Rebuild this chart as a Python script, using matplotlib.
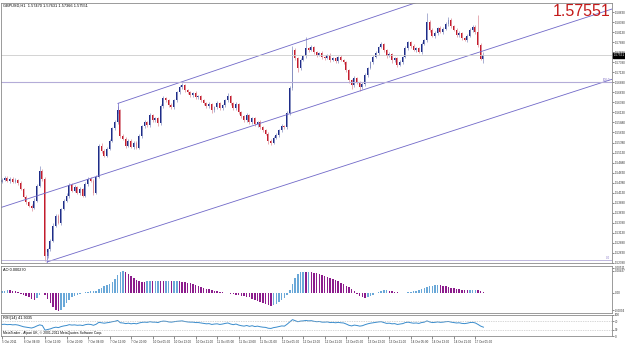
import numpy as np
import matplotlib.pyplot as plt

# GBPUSD H1 candles, 5 Oct - 17 Oct 2011 (closes)
close = [1.54455, 1.54505, 1.5443, 1.5448, 1.54405, 1.54455, 1.5438, 1.5423, 1.5403, 1.53905,
         1.53805, 1.53755, 1.5393, 1.54305, 1.5468, 1.5448, 1.52555, 1.5273, 1.5293, 1.53305,
         1.53555, 1.5338, 1.5373, 1.5393, 1.54055, 1.5433, 1.5418, 1.5428, 1.5413, 1.5423,
         1.54055, 1.54355, 1.5448, 1.5443, 1.5413, 1.5453, 1.55305, 1.5518, 1.55055, 1.5523,
         1.5543, 1.5573, 1.5588, 1.5618, 1.55555, 1.5548, 1.55305, 1.5543, 1.5528, 1.5538,
         1.55255, 1.55555, 1.5578, 1.5588, 1.55805, 1.56055, 1.5593, 1.5598, 1.55855, 1.5628,
         1.5648, 1.5643, 1.56305, 1.56255, 1.5643, 1.5663, 1.56755, 1.56805, 1.5668, 1.5663,
         1.56555, 1.56605, 1.56505, 1.5653, 1.5643, 1.56355, 1.5628, 1.5633, 1.5618, 1.56255,
         1.56355, 1.5623, 1.56305, 1.5643, 1.5653, 1.56355, 1.5623, 1.5633, 1.5613, 1.5603,
         1.5593, 1.56055, 1.5588, 1.5598, 1.5583, 1.5588, 1.55755, 1.5568, 1.55605, 1.5543,
         1.5538, 1.55505, 1.5558, 1.5568, 1.5578, 1.55755, 1.56105, 1.5673, 1.5768, 1.5748,
         1.5723, 1.5743, 1.5753, 1.5773, 1.5768, 1.57755, 1.5763, 1.57555, 1.57605, 1.57505,
         1.5748, 1.57555, 1.5743, 1.5748, 1.57405, 1.57505, 1.5743, 1.5738, 1.5718, 1.5693,
         1.56805, 1.5698, 1.5688, 1.56755, 1.5683, 1.57055, 1.5723, 1.5738, 1.57505, 1.57605,
         1.57755, 1.5783, 1.5768, 1.5753, 1.5758, 1.5743, 1.5748, 1.57305, 1.5738, 1.57505,
         1.5773, 1.5788, 1.5778, 1.5768, 1.5773, 1.5763, 1.5783, 1.5793, 1.5838, 1.5818,
         1.5803, 1.58105, 1.5823, 1.5813, 1.58205, 1.5833, 1.5843, 1.5828, 1.5818, 1.5805,
         1.58105, 1.5798, 1.5793, 1.5803, 1.5818, 1.58255, 1.5813, 1.5780, 1.5747, 1.57551]
first_open = 1.54405

# wick lengths in pips above / below the body
wick_up = [4, 3, 5, 3, 4, 3, 2, 4, 3, 5, 3, 4, 6, 5, 12, 4, 5, 3, 4, 6,
           4, 5, 3, 4, 6, 3, 4, 5, 3, 4, 3, 5, 4, 3, 4, 3, 5, 6, 3, 4,
           5, 4, 6, 10, 3, 4, 3, 5, 4, 3, 4, 5, 3, 6, 4, 5, 3, 4, 3, 5,
           6, 4, 3, 5, 4, 3, 6, 5, 4, 3, 4, 3, 5, 3, 4, 3, 4, 5, 3, 4,
           5, 3, 4, 3, 8, 4, 3, 5, 3, 4, 3, 5, 4, 3, 4, 3, 5, 3, 4, 3,
           4, 5, 3, 4, 5, 3, 6, 5, 10, 6, 4, 5, 3, 28, 4, 5, 3, 4, 3, 5,
           3, 4, 5, 3, 4, 3, 5, 3, 4, 3, 4, 5, 3, 4, 6, 5, 4, 3, 5, 6,
           4, 5, 3, 4, 5, 3, 4, 3, 5, 4, 6, 4, 3, 5, 4, 3, 5, 4, 22, 6,
           4, 5, 3, 4, 5, 6, 7, 4, 3, 4, 5, 3, 4, 5, 4, 6, 4, 42, 5, 8]
wick_dn = [3, 4, 3, 5, 3, 4, 5, 3, 4, 5, 4, 8, 3, 4, 3, 5, 12, 4, 5, 3,
           4, 3, 5, 3, 4, 5, 3, 4, 3, 5, 4, 3, 5, 4, 6, 3, 4, 5, 4, 3,
           3, 4, 3, 4, 5, 3, 6, 4, 3, 5, 4, 3, 5, 3, 4, 3, 5, 4, 6, 3,
           3, 4, 5, 3, 4, 3, 3, 4, 5, 3, 4, 3, 5, 3, 4, 5, 3, 4, 6, 3,
           4, 3, 5, 4, 3, 5, 4, 3, 5, 4, 5, 3, 4, 5, 3, 6, 4, 5, 3, 8,
           6, 4, 3, 5, 3, 4, 3, 4, 3, 4, 10, 4, 3, 5, 4, 3, 5, 4, 3, 4,
           5, 3, 4, 3, 5, 4, 3, 4, 5, 6, 8, 4, 3, 8, 4, 3, 5, 3, 4, 3,
           4, 3, 5, 4, 3, 6, 4, 5, 3, 4, 3, 4, 5, 3, 4, 3, 4, 3, 5, 4,
           3, 4, 5, 3, 4, 3, 4, 5, 3, 4, 4, 5, 3, 4, 3, 4, 5, 3, 4, 11]

# Awesome Oscillator, in pips
ao_pips = [4, 5, 6, 6, 5, 4, 3,
           -1, -3, -6, -8, -11, -13, -10, -4, 1,
           -4, -12, -20, -28, -34, -36, -34, -28,
           -20, -14, -8, -6, -4, -2,
           0.5, 2, 3, 4, 4.2, 5,
           8, 11, 14, 16, 18, 22, 28, 36, 42, 44,
           42, 38, 34, 30, 26, 24, 23,
           23, 23.4, 24, 23.6, 24, 24.4, 24, 23.6, 24, 24.2, 23.8, 24, 24.4, 24,
           23, 22, 21, 20, 18, 16, 14, 12, 10, 9, 8, 6, 5,
           4, 3, 2, 1, 0, -1, -2, -3, -4, -5, -6, -7, -8,
           -12, -14, -16, -18, -20, -22, -24, -25, -24, -22, -18,
           -14, -10, -4, 6, 18, 30, 38,
           42, 43, 42, 43, 42, 41,
           40, 38, 36, 34, 32, 30, 28, 26, 24, 21, 18, 15, 12, 8, 4,
           -2, -6, -8, -9, -8, -6, -3, 0.5, 3,
           5, 6, 6.2, 5, 4, 3, 2, 1, 0.6, 1, 2, 3,
           4, 5, 6, 8, 10, 12, 14, 15, 16, 17,
           16, 15, 14, 13, 11, 10, 9, 8, 7, 6.4,
           6, 6.2, 6.4, 6.6, 6, 5, 3]

rsi = [55, 56, 54, 55, 53, 54, 52, 48, 44, 42, 40, 38, 42, 48, 53, 50, 28, 31, 34, 39,
       42, 40, 45, 48, 50, 54, 52, 53, 51, 52, 50, 54, 56, 55, 51, 56, 65, 63, 61, 63,
       65, 68, 70, 74, 63, 62, 59, 61, 58, 60, 58, 62, 65, 66, 65, 68, 66, 66, 64, 69,
       71, 70, 67, 66, 68, 70, 71, 72, 69, 67, 66, 66, 64, 64, 62, 60, 58, 59, 55, 57,
       58, 55, 57, 60, 62, 57, 54, 57, 52, 49, 47, 50, 46, 49, 45, 47, 44, 42, 41, 37,
       36, 40, 42, 45, 48, 47, 56, 67, 78, 73, 68, 71, 72, 74, 72, 73, 70, 68, 69, 66,
       66, 67, 64, 65, 63, 65, 63, 62, 57, 51, 48, 52, 50, 47, 49, 54, 58, 61, 63, 65,
       67, 68, 64, 60, 61, 58, 59, 55, 57, 59, 64, 66, 63, 61, 62, 60, 64, 66, 72, 67,
       64, 65, 67, 65, 66, 68, 69, 66, 64, 62, 63, 60, 59, 61, 64, 65, 62, 55, 47, 42]

date_labels = ["5 Oct 2011", "6 Oct 04:00", "6 Oct 12:00", "6 Oct 20:00", "7 Oct 04:00",
               "7 Oct 12:00", "7 Oct 20:00", "10 Oct 05:00", "10 Oct 13:00", "10 Oct 21:00",
               "11 Oct 05:00", "11 Oct 13:00", "11 Oct 21:00", "12 Oct 05:00", "12 Oct 13:00",
               "12 Oct 21:00", "13 Oct 05:00", "13 Oct 13:00", "13 Oct 21:00", "14 Oct 05:00",
               "14 Oct 13:00", "14 Oct 21:00", "17 Oct 05:00"]

# channel lines (bar index, price)
upper_line = ([43.1, 159.1], [1.56355, 1.5898])
middle_line = ([-0.7, 226.8], [1.53755, 1.58705])
lower_line = ([16.7, 226.8], [1.52405, 1.56955])
level_price = 1.5688
bid = 1.57551

plt.rcParams['font.family'] = ['Liberation Sans', 'DejaVu Sans']

bull, bear = "#1e2c88", "#c41c2c"
bull_w, bear_w = "#9ca4cc", "#e2a0a8"
ao_up, ao_dn = "#6aa8d8", "#8c1c8c"
frame = "#8a8a8a"
small = 2.2

W, H = 625, 343
fig = plt.figure(figsize=(W / 100, H / 100), dpi=100)


def panel(top, bottom):
    return fig.add_axes([1 / W, 1 - bottom / H, 611 / W, (bottom - top) / H])


xlim = (-0.37, 226.8)
ax = panel(3, 263)
ax_ao = panel(266, 313)
ax_rsi = panel(315, 336)

c = np.array(close)
o = np.array([first_open] + close[:-1])
hi = np.maximum(o, c) + np.array(wick_up) * 1e-4
lo = np.minimum(o, c) - np.array(wick_dn) * 1e-4
x = np.arange(len(c))
up = c >= o

ax.vlines(x[up], lo[up], hi[up], color=bull_w, lw=0.6)
ax.vlines(x[~up], lo[~up], hi[~up], color=bear_w, lw=0.6)
ax.bar(x, np.maximum(np.abs(c - o), 0.00008), bottom=np.minimum(o, c), width=0.7,
       color=np.where(up, bull, bear), linewidth=0)

chan = "#7068c8"
for xs, ys in (upper_line, middle_line, lower_line):
    ax.plot(xs, ys, color=chan, lw=0.6)
ax.plot([43.1, 43.1], [1.5611, 1.56355], color=chan, lw=0.5)
ax.plot([16.7, 16.7], [1.52405, 1.5265], color=chan, lw=0.5)
ax.axhline(bid, color="#cccccc", lw=0.6)
ax.axhline(level_price, color="#b4acd8", lw=0.8)
ax.axhline(1.5245, color="#b4acd8", lw=0.6)
ax.text(226, level_price, "100.0", color="#8878c8", fontsize=small, ha="right", va="bottom")
ax.text(226, 1.5245, "0.0", color="#8878c8", fontsize=small, ha="right", va="bottom")

ax.set_xlim(*xlim)
ax.set_ylim(1.5238, 1.58855)
ticks = np.arange(1.5238, 1.5886, 0.0025)
ax.set_yticks(ticks)
ax.set_yticklabels([f"{t:.5f}" for t in ticks])
ax.text(1.0025, bid, f"{bid:.5f}", transform=ax.get_yaxis_transform(), fontsize=small,
        color="white", va="center", ha="left",
        bbox=dict(boxstyle="square,pad=0.2", fc="black", ec="black"))

fig.text(3 / W, 1 - 6 / H, "GBPUSD,H1  1.57470 1.57631 1.57366 1.57551", fontsize=2.8,
         va="center", ha="left")
fig.text(610 / W, 1 - 12 / H, "1.57551", fontsize=11.5, color="#c41a1a", ha="right",
         va="center")

# AO
ao = np.array(ao_pips) * 1e-4
ao_col = [ao_up if i == 0 or ao[i] > ao[i - 1] else ao_dn for i in range(len(ao))]
ax_ao.bar(x, ao, width=0.55, color=ao_col, linewidth=0)
ax_ao.set_xlim(*xlim)
ax_ao.set_ylim(-0.0040, 0.0054)
ax_ao.set_yticks([-0.0034, 0.0, 0.0044, 0.0051])
ax_ao.set_yticklabels(["-0.0034", "0.00", "0.00437", "0.00511"])
ax_ao.text(0.004, 0.95, "AO 0.000270", transform=ax_ao.transAxes, fontsize=2.8, va="top")

# RSI
ax_rsi.plot(x, rsi, color="#3a8ccc", lw=0.7)
for lvl in (70, 30):
    ax_rsi.axhline(lvl, color="#b0b0b0", lw=0.5, ls=(0, (1, 1.5)))
ax_rsi.set_xlim(*xlim)
ax_rsi.set_ylim(0, 100)
ax_rsi.set_yticks([0, 30, 70, 100])
ax_rsi.text(0.004, 0.95, "RSI(14) 41.9335", transform=ax_rsi.transAxes, fontsize=2.8, va="top")
ax_rsi.text(0.004, 0.06, "MetaTrader - Alpari UK, \u00a9 2001-2011 MetaQuotes Software Corp.",
            transform=ax_rsi.transAxes, fontsize=2.4, va="bottom")
ax_rsi.set_xticks(np.arange(len(date_labels)) * 8)
ax_rsi.set_xticklabels(date_labels, ha="left")

for a in (ax, ax_ao, ax_rsi):
    a.yaxis.tick_right()
    a.tick_params(axis="y", labelsize=small, length=1.2, width=0.4, pad=0.6, colors="#303030")
    a.tick_params(axis="x", labelsize=small, length=2.5, width=0.4, pad=0.6, colors="#303030")
    for s in a.spines.values():
        s.set_color(frame)
        s.set_linewidth(0.6)
ax.set_xticks([])
ax_ao.set_xticks([])

fig.savefig("out.png", dpi=100)
